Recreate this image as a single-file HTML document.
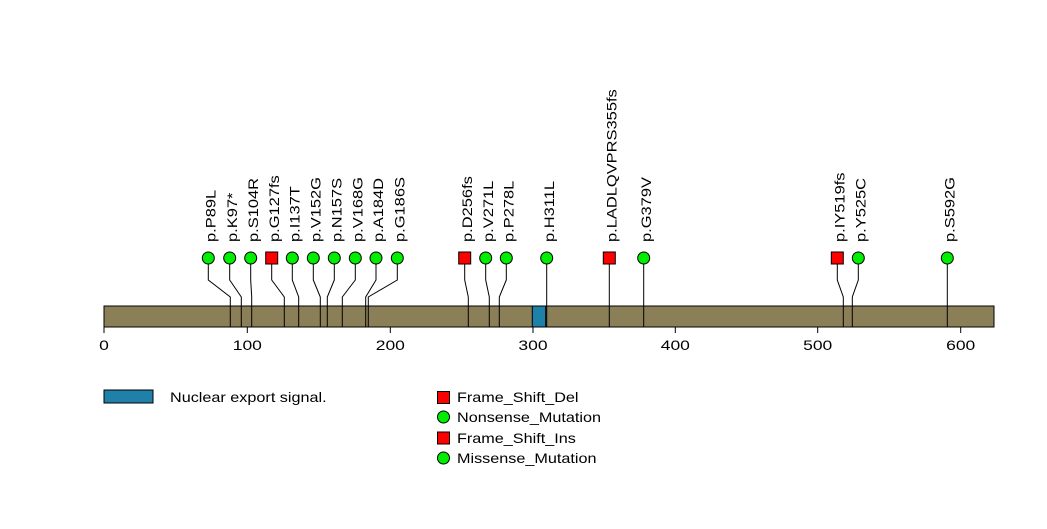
<!DOCTYPE html>
<html><head><meta charset="utf-8"><style>
html,body{margin:0;padding:0;background:#fff;}
svg text{font-family:"Liberation Sans",Arial,sans-serif;}
</style></head><body>
<svg width="1047" height="524" viewBox="0 0 1047 524" xmlns="http://www.w3.org/2000/svg">
<rect x="104" y="306" width="890" height="21" fill="#8b7f57" stroke="#000" stroke-width="1"/>
<rect x="532.3" y="306" width="13.4" height="21" fill="#1f80aa" stroke="#000" stroke-width="1"/>
<g stroke="#000" stroke-width="1" fill="none">
<polyline points="208.3,258 208.3,280 230.3,297 230.3,327"/>
<polyline points="229.7,258 229.7,280 241.3,297 241.3,327"/>
<polyline points="250.7,258 250.7,280 251.7,297 251.7,327"/>
<polyline points="271.7,258 271.7,280 284.3,297 284.3,327"/>
<polyline points="292.3,258 292.3,280 298.7,297 298.7,327"/>
<polyline points="313.3,258 313.3,280 320.3,297 320.3,327"/>
<polyline points="334.3,258 334.3,280 327.3,297 327.3,327"/>
<polyline points="355.3,258 355.3,280 342.3,297 342.3,327"/>
<polyline points="376,258 376,280 365.7,297 365.7,327"/>
<polyline points="397.3,258 397.3,280 368.3,297 368.3,327"/>
<polyline points="464.7,258 464.7,280 468.3,297 468.3,327"/>
<polyline points="485.7,258 485.7,280 489.3,297 489.3,327"/>
<polyline points="506.3,258 506.3,280 499.3,297 499.3,327"/>
<polyline points="546.7,258 546.7,327"/>
<polyline points="609.3,258 609.3,327"/>
<polyline points="643.7,258 643.7,327"/>
<polyline points="837.3,258 837.3,280 843.3,297 843.3,327"/>
<polyline points="858.3,258 858.3,280 852.3,297 852.3,327"/>
<polyline points="947.3,258 947.3,327"/>
<line x1="104" y1="327" x2="104" y2="333"/>
<line x1="247.3" y1="327" x2="247.3" y2="333"/>
<line x1="390.3" y1="327" x2="390.3" y2="333"/>
<line x1="533" y1="327" x2="533" y2="333"/>
<line x1="675.3" y1="327" x2="675.3" y2="333"/>
<line x1="817.7" y1="327" x2="817.7" y2="333"/>
<line x1="960.7" y1="327" x2="960.7" y2="333"/>
</g>
<g font-size="14" text-anchor="middle" fill="#000">
<text transform="translate(104,350) scale(1.25,1)">0</text>
<text transform="translate(247.3,350) scale(1.25,1)">100</text>
<text transform="translate(390.3,350) scale(1.25,1)">200</text>
<text transform="translate(533,350) scale(1.25,1)">300</text>
<text transform="translate(675.3,350) scale(1.25,1)">400</text>
<text transform="translate(817.7,350) scale(1.25,1)">500</text>
<text transform="translate(960.7,350) scale(1.25,1)">600</text>
</g>
<g stroke="#000" stroke-width="1">
<g fill="#00ee00">
<circle cx="208.3" cy="258" r="6"/><circle cx="229.7" cy="258" r="6"/><circle cx="250.7" cy="258" r="6"/>
<circle cx="292.3" cy="258" r="6"/><circle cx="313.3" cy="258" r="6"/><circle cx="334.3" cy="258" r="6"/>
<circle cx="355.3" cy="258" r="6"/><circle cx="376" cy="258" r="6"/><circle cx="397.3" cy="258" r="6"/>
<circle cx="485.7" cy="258" r="6"/><circle cx="506.3" cy="258" r="6"/><circle cx="546.7" cy="258" r="6"/>
<circle cx="643.7" cy="258" r="6"/><circle cx="858.3" cy="258" r="6"/><circle cx="947.3" cy="258" r="6"/>
</g>
<g fill="#ff0000">
<rect x="265.7" y="252" width="12" height="12"/><rect x="458.7" y="252" width="12" height="12"/>
<rect x="603.3" y="252" width="12" height="12"/><rect x="831.3" y="252" width="12" height="12"/>
</g>
</g>
<g font-size="13.5" fill="#000">
<text transform="translate(215.5,242) rotate(-90) scale(1.22,1)">p.P89L</text>
<text transform="translate(236.9,242) rotate(-90) scale(1.22,1)">p.K97*</text>
<text transform="translate(257.9,242) rotate(-90) scale(1.22,1)">p.S104R</text>
<text transform="translate(278.9,242) rotate(-90) scale(1.22,1)">p.G127fs</text>
<text transform="translate(299.5,242) rotate(-90) scale(1.22,1)">p.I137T</text>
<text transform="translate(320.5,242) rotate(-90) scale(1.22,1)">p.V152G</text>
<text transform="translate(341.5,242) rotate(-90) scale(1.22,1)">p.N157S</text>
<text transform="translate(362.5,242) rotate(-90) scale(1.22,1)">p.V168G</text>
<text transform="translate(383.2,242) rotate(-90) scale(1.22,1)">p.A184D</text>
<text transform="translate(404.5,242) rotate(-90) scale(1.22,1)">p.G186S</text>
<text transform="translate(471.9,242) rotate(-90) scale(1.22,1)">p.D256fs</text>
<text transform="translate(492.9,242) rotate(-90) scale(1.22,1)">p.V271L</text>
<text transform="translate(513.5,242) rotate(-90) scale(1.22,1)">p.P278L</text>
<text transform="translate(553.9,242) rotate(-90) scale(1.22,1)">p.H311L</text>
<text transform="translate(616.5,242) rotate(-90) scale(1.22,1)">p.LADLQVPRS355fs</text>
<text transform="translate(650.9,242) rotate(-90) scale(1.22,1)">p.G379V</text>
<text transform="translate(844.5,242) rotate(-90) scale(1.22,1)">p.IY519fs</text>
<text transform="translate(865.5,242) rotate(-90) scale(1.22,1)">p.Y525C</text>
<text transform="translate(954.5,242) rotate(-90) scale(1.22,1)">p.S592G</text>
</g>
<rect x="104" y="390" width="49" height="13" fill="#1f80aa" stroke="#000" stroke-width="1"/>
<g font-size="13.5" fill="#000">
<text transform="translate(170,402) scale(1.2,1)">Nuclear export signal.</text>
<text transform="translate(457,402) scale(1.2,1)">Frame_Shift_Del</text>
<text transform="translate(457,422) scale(1.2,1)">Nonsense_Mutation</text>
<text transform="translate(457,443) scale(1.2,1)">Frame_Shift_Ins</text>
<text transform="translate(457,463) scale(1.2,1)">Missense_Mutation</text>
</g>
<g stroke="#000" stroke-width="1">
<rect x="437.5" y="391.5" width="12" height="12" fill="#ff0000"/>
<circle cx="443.5" cy="417" r="6" fill="#00ee00"/>
<rect x="437.5" y="432" width="12" height="12" fill="#ff0000"/>
<circle cx="443.5" cy="458" r="6" fill="#00ee00"/>
</g>
</svg>
</body></html>
